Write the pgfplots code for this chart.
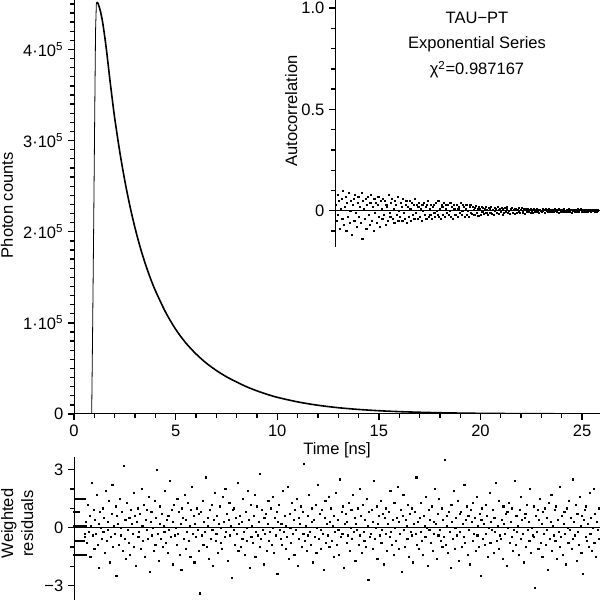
\documentclass[border=0pt]{standalone}
\usepackage{fontspec}
\setmainfont{Liberation Sans}
\usepackage{pgfplots}
\pgfplotsset{compat=1.18}
\newcommand\lblfont{\fontsize{12.4}{15}\selectfont}
\pgfplotsset{myax/.style={
  scale only axis, tick align=outside,
  major tick length=4.5pt, minor tick length=2.8pt,
  tick style={black, line width=1pt},
  axis line style={line width=0.75pt},
  tick label style={font=\lblfont},
  label style={font=\lblfont},
}}
\begin{document}
\begin{tikzpicture}[font=\lblfont]
\path[use as bounding box] (0,0) rectangle (450pt,450pt);
% ---------------- main decay ----------------
\begin{axis}[at={(55.5pt,139.5pt)}, anchor=south west,
  width=394.5pt, height=310.5pt,
  xmin=0, xmax=25.88, ymin=0, ymax=454300,
  axis lines*=left, scaled ticks=false, myax,
  xtick={0,5,10,15,20,25}, xticklabels={0,5,10,15,20,25},
  minor xtick={1,2,3,4,6,7,8,9,11,12,13,14,16,17,18,19,21,22,23,24},
  ytick={0,100000,200000,300000,400000},
  yticklabels={0,1·10\textsuperscript{5},2·10\textsuperscript{5},3·10\textsuperscript{5},4·10\textsuperscript{5}},
  minor ytick={10000,20000,30000,40000,50000,60000,70000,80000,90000,110000,120000,130000,140000,150000,160000,170000,180000,190000,210000,220000,230000,240000,250000,260000,270000,280000,290000,310000,320000,330000,340000,350000,360000,370000,380000,390000,410000,420000,430000,440000,450000},
  xlabel={Time [ns]}, ylabel={Photon counts},
  xlabel style={at={(axis description cs:0.5,-0.099)}, anchor=base},
  ylabel style={at={(axis description cs:-0.116,0.504)}, anchor=base},
]
\addplot[black, line width=0.6pt] coordinates {(0,0)(0.87,0)(0.92,100000)(0.97,210000)(1.02,330000)(1.06,420000)(1.10,450000)(1.13,452000)};
\addplot[black, line width=1.2pt, smooth] coordinates {(1.13,452000)(1.18,450500)(1.25,446000)(1.30,442000)(1.40,431000)(1.50,416000)(1.60,399000)(1.76,368000)(1.88,346000)(2.00,325000)(2.25,288000)(2.50,256000)(2.75,228300)(3.00,204400)(3.25,183500)(3.50,165400)(3.75,149500)(4.00,135600)(4.50,112000)(5.00,93000)(5.50,78000)(6.00,66000)(6.50,56000)(7.00,47800)(7.50,40900)(8.00,35100)(8.50,29800)(9.00,25400)(9.50,21600)(10,18300)(11,13300)(12,9600)(13,6900)(14,5000)(15,3600)(16,2600)(17,1900)(18,1360)(19,980)(20,710)(22,370)(24,190)(25.88,100)};
\end{axis}
% ---------------- residuals ----------------
\begin{axis}[at={(55.5pt,0pt)}, anchor=south west,
  width=394.5pt, height=107.25pt,
  xmin=0, xmax=1294, ymin=-3.75, ymax=3.65,
  axis x line=none, axis y line*=left, myax,
  ytick={-3,0,3}, yticklabels={−3,0,3}, minor ytick={-2,-1,1,2},
  ylabel={Weighted\\residuals},
  ylabel style={align=center, at={(axis description cs:-0.108,0.535)}, anchor=center},
]
\addplot[black, line width=0.6pt] coordinates {(0,0)(1294,0)};
\addplot[only marks, mark=square*, mark size=0.42pt, black] coordinates {
(0,0.1)(2,0.1)(4,0.1)(6,0.1)(8,0.1)(10,0.1)(12,0.1)(14,0.1)(16,0.1)(18,0.1)(20,0.1)(22,0.1)(24,0.1)(26,0.1)(28,0.1)
(2,1.5)(6,1.5)(10,1.5)(14,1.5)(18,1.5)(22,1.5)(26,1.5)
(0,0.8)(4,0.8)(8,0.8)(12,0.8)
(4,-0.7)(6,-0.7)(8,-0.7)(10,-0.7)(12,-0.7)(14,-0.7)(16,-0.7)(18,-0.7)(20,-0.7)(22,-0.7)(24,-0.7)(26,-0.5)(26,-0.3)
(0,-1.4)(4,-1.4)(8,-1.4)(12,-1.4)(16,-1.4)(20,-1.4)(24,-1.4)(28,-1.4)
(30,0.3)(32,-0.8)(34,1.2)(36,-0.2)(38,0.6)(40,-1.5)(42,0.1)(44,2.3)(46,-0.4)(48,0.9)
(50,-1.1)(52,0.4)(54,-0.3)(56,1.7)(58,-0.9)(60,0.2)(62,-2.1)(64,0.8)(66,0.0)(68,-0.6)
(70,1.0)(72,-0.2)(74,0.5)(76,-1.3)(78,1.9)(80,-0.7)(82,0.3)(84,-0.1)(86,1.4)(88,-1.8)
(90,-0.5)(92,0.7)(94,2.2)(96,-1.0)(98,0.1)(100,-0.3)(102,1.1)(104,-2.5)(106,0.6)(108,0.2)
(110,-0.9)(112,1.5)(114,-0.4)(116,0.0)(118,0.8)(120,-1.2)(122,3.2)(124,-0.6)(126,0.4)(128,-1.6)
(130,1.3)(132,-0.1)(134,-0.8)(136,0.5)(138,-1.4)(140,0.9)(142,0.2)(144,-0.3)(146,1.8)(148,-1.0)
(150,0.6)(152,-2.0)(154,0.3)(156,1.0)(158,-0.5)(160,-0.2)(162,0.7)(164,-1.1)(166,2.0)(168,0.1)
(170,-0.7)(172,1.2)(174,-1.5)(176,0.4)(178,-0.1)(180,0.9)(182,-0.6)(184,1.6)(186,-2.3)(188,0.3)
(190,0.8)(192,-0.4)(194,0.0)(196,-1.2)(198,1.4)(200,-0.9)(202,0.5)(204,3.0)(206,-0.3)(208,-1.7)
(210,0.2)(212,1.1)(214,-0.6)(216,0.7)(218,-1.0)(220,0.1)(222,-0.2)(224,1.9)(226,-0.8)(228,0.4)
(230,-1.3)(232,0.6)(234,-0.1)(236,2.4)(238,-0.5)(240,0.9)(242,-1.9)(244,0.3)(246,1.2)(248,-0.4)
(250,0.0)(252,-0.9)(254,1.5)(256,-0.3)(258,0.8)(260,-1.4)(262,0.2)(264,-2.2)(266,1.0)(268,0.5)
(270,-0.6)(272,1.7)(274,-1.1)(276,0.4)(278,-0.2)(280,1.3)(282,-0.7)(284,0.1)(286,-1.5)(288,0.9)
(290,2.1)(292,-0.3)(294,0.6)(296,-1.8)(298,0.2)(300,-0.5)(302,1.0)(304,-0.1)(306,0.7)(308,-1.2)
(310,-3.4)(312,0.8)(314,-0.4)(316,1.4)(318,-0.9)(320,0.3)(322,-0.2)(324,2.6)(326,-1.0)(328,0.5)
(330,0.1)(332,-1.6)(334,0.9)(336,-0.6)(338,1.2)(340,-0.1)(342,-2.0)(344,0.4)(346,1.8)(348,-0.7)
(350,-0.3)(352,0.6)(354,-1.3)(356,0.2)(358,1.1)(360,-0.8)(362,0.0)(364,-1.1)(366,1.6)(368,0.3)
(370,-0.5)(372,2.0)(374,-0.2)(376,0.7)(378,-1.7)(380,0.4)(382,1.3)(384,-0.4)(386,0.1)(388,-2.6)
(390,0.9)(392,-0.1)(394,1.0)(396,-0.9)(398,0.5)(400,-0.3)(402,2.3)(404,-1.2)(406,0.2)(408,0.6)
(410,-1.0)(412,0.3)(414,-0.6)(416,1.5)(418,-0.2)(420,-1.4)(422,0.8)(424,0.0)(426,-0.7)(428,1.9)
(430,0.4)(432,-2.1)(434,1.2)(436,-0.5)(438,0.1)(440,-0.8)(442,0.6)(444,1.7)(446,-1.5)(448,-0.2)
(450,1.1)(452,-0.4)(454,0.3)(456,-1.0)(458,2.8)(460,-0.6)(462,0.9)(464,-0.1)(466,-1.9)(468,0.5)
(470,-0.3)(472,0.7)(474,-1.2)(476,0.2)(478,1.4)(480,-0.7)(482,-0.2)(484,1.0)(486,-0.9)(488,0.0)
(490,1.6)(492,-1.3)(494,0.5)(496,-0.4)(498,0.8)(500,-2.4)(502,0.3)(504,1.2)(506,-0.1)(508,-0.6)
(510,0.2)(512,-0.9)(514,1.9)(516,-0.2)(518,0.6)(520,-1.1)(522,0.1)(524,-0.5)(526,2.1)(528,-1.6)
(530,0.7)(532,0.0)(534,-0.8)(536,1.3)(538,-0.3)(540,0.4)(542,-1.4)(544,0.9)(546,-0.1)(548,1.5)
(550,-2.0)(552,0.5)(554,-0.6)(556,0.2)(558,1.1)(560,-1.0)(562,0.8)(564,-0.3)(566,3.3)(568,-0.7)
(570,0.1)(572,-1.2)(574,0.6)(576,-0.4)(578,1.7)(580,-0.2)(582,-0.9)(584,0.3)(586,1.0)(588,-1.8)
(590,0.4)(592,-0.5)(594,1.2)(596,-1.3)(598,0.0)(600,2.2)(602,-0.6)(604,0.7)(606,-0.1)(608,-1.1)
(610,0.9)(612,-0.3)(614,-2.2)(616,0.5)(618,1.4)(620,-0.8)(622,0.2)(624,-0.4)(626,1.6)(628,-1.0)
(630,0.3)(632,1.0)(634,-0.7)(636,0.1)(638,-1.5)(640,0.6)(642,-0.2)(644,1.8)(646,-0.9)(648,0.4)
(650,-0.1)(652,-1.4)(654,2.5)(656,-0.5)(658,0.8)(660,-0.3)(662,1.1)(664,-2.1)(666,0.2)(668,0.7)
(670,-0.8)(672,0.3)(674,-0.4)(676,1.3)(678,-1.2)(680,0.0)(682,0.9)(684,-0.6)(686,1.7)(688,-0.2)
(690,0.5)(692,-1.7)(694,0.2)(696,-0.1)(698,1.0)(700,-0.9)(702,2.0)(704,-0.4)(706,0.6)(708,-1.3)
(710,1.2)(712,-0.2)(714,-0.7)(716,0.4)(718,-1.0)(720,1.5)(722,0.1)(724,-2.7)(726,0.8)(728,-0.5)
(730,-0.3)(732,0.9)(734,-1.1)(736,0.3)(738,2.4)(740,-0.6)(742,0.0)(744,1.1)(746,-1.6)(748,0.2)
(750,0.6)(752,-0.4)(754,1.4)(756,-0.8)(758,-0.1)(760,0.7)(762,-1.9)(764,0.5)(766,1.0)(768,-0.3)
(770,-1.2)(772,0.2)(774,0.8)(776,-0.5)(778,1.9)(780,-0.2)(782,-0.9)(784,0.4)(786,-1.4)(788,1.3)
(790,0.0)(792,-0.7)(794,0.5)(796,2.1)(798,-1.1)(800,0.3)(802,-0.3)(804,0.9)(806,-2.3)(808,0.6)
(810,1.7)(812,-0.1)(814,-1.0)(816,0.4)(818,0.1)(820,-0.6)(822,1.2)(824,-1.5)(826,0.7)(828,-0.2)
(830,-0.4)(832,1.0)(834,-1.8)(836,0.2)(838,0.8)(840,-0.3)(842,2.6)(844,-0.9)(846,0.3)(848,-1.1)
(850,0.5)(852,-0.2)(854,1.3)(856,-0.7)(858,-1.4)(860,0.6)(862,0.1)(864,-0.5)(866,1.6)(868,0.0)
(870,-2.0)(872,0.9)(874,-0.1)(876,0.4)(878,-0.8)(880,1.1)(882,-1.2)(884,0.3)(886,-0.3)(888,2.0)
(890,0.2)(892,-1.6)(894,0.7)(896,-0.4)(898,1.5)(900,-0.1)(902,-0.7)(904,1.0)(906,-1.0)(908,0.4)
(910,-0.5)(912,3.5)(914,-0.9)(916,0.1)(918,0.6)(920,-1.3)(922,0.8)(924,-0.2)(926,-2.1)(928,1.2)
(930,0.3)(932,-0.6)(934,1.9)(936,-1.1)(938,0.0)(940,0.5)(942,-0.4)(944,1.4)(946,-1.7)(948,0.7)
(950,-0.2)(952,0.8)(954,-1.0)(956,0.2)(958,-0.5)(960,2.2)(962,-0.8)(964,0.4)(966,1.1)(968,-1.4)
(970,0.6)(972,-0.1)(974,-1.9)(976,0.9)(978,0.3)(980,-0.7)(982,1.3)(984,-0.3)(986,0.5)(988,-1.2)
(990,1.6)(992,-0.4)(994,0.1)(996,-1.0)(998,0.7)(1000,-2.5)(1002,0.4)(1004,1.0)(1006,-0.6)(1008,0.2)
(1010,-0.9)(1012,1.2)(1014,-0.3)(1016,0.6)(1018,-1.5)(1020,0.0)(1022,1.8)(1024,-0.8)(1026,0.3)(1028,-0.1)
(1030,0.9)(1032,-1.3)(1034,0.5)(1036,-0.2)(1038,2.3)(1040,-0.7)(1042,0.1)(1044,-1.1)(1046,1.4)(1048,-0.4)
(1050,-0.6)(1052,0.4)(1054,-1.6)(1056,1.1)(1058,0.2)(1060,-0.3)(1062,0.7)(1064,-2.0)(1066,0.8)(1068,0.0)
(1070,1.3)(1072,-0.8)(1074,0.3)(1076,-0.5)(1078,1.0)(1080,-1.2)(1082,-0.1)(1084,2.4)(1086,-0.9)(1088,0.6)
(1090,-0.2)(1092,0.1)(1094,-1.4)(1096,0.9)(1098,-0.6)(1100,1.6)(1102,0.4)(1104,-0.3)(1106,-1.8)(1108,0.5)
(1110,0.7)(1112,-1.0)(1114,1.2)(1116,-0.1)(1118,0.3)(1120,-0.7)(1122,2.0)(1124,-1.3)(1126,0.0)(1128,-0.4)
(1130,1.1)(1132,-0.5)(1134,-3.1)(1136,0.6)(1138,-0.2)(1140,0.9)(1142,-1.1)(1144,0.4)(1146,1.5)(1148,-0.8)
(1150,0.2)(1152,-1.5)(1154,0.8)(1156,-0.3)(1158,1.0)(1160,-0.9)(1162,0.5)(1164,-0.1)(1166,-2.2)(1168,1.3)
(1170,-0.6)(1172,0.3)(1174,1.7)(1176,-1.2)(1178,0.1)(1180,-0.4)(1182,0.9)(1184,-0.7)(1186,1.1)(1188,-1.6)
(1190,0.4)(1192,-0.2)(1194,-1.0)(1196,2.1)(1198,-0.5)(1200,0.6)(1202,-1.4)(1204,0.2)(1206,0.8)(1208,-0.3)
(1210,-1.9)(1212,1.0)(1214,0.0)(1216,-0.8)(1218,1.4)(1220,-0.1)(1222,0.5)(1224,-1.1)(1226,2.5)(1228,-0.6)
(1230,0.3)(1232,-0.4)(1234,1.2)(1236,-1.7)(1238,0.7)(1240,-0.2)(1242,-0.9)(1244,1.6)(1246,0.1)(1248,-1.3)
(1250,0.6)(1252,-2.4)(1254,0.4)(1256,0.9)(1258,-0.5)(1260,1.1)(1262,-0.7)(1264,0.2)(1266,-1.0)(1268,1.8)
(1270,-0.3)(1272,0.5)(1274,-1.2)(1276,0.0)(1278,2.0)(1280,-0.8)(1282,0.7)(1284,-1.5)(1286,0.3)(1288,-0.1)
(1290,1.0)(1292,-0.6)
};
\end{axis}
% ---------------- autocorrelation inset ----------------
\begin{axis}[at={(251.25pt,264.75pt)}, anchor=south west,
  width=198.75pt, height=185.25pt,
  xmin=0, xmax=662, ymin=-0.179, ymax=1.04,
  axis x line=none, axis y line*=left, myax,
  ytick={0,0.5,1}, yticklabels={0,0.5,1.0},
  minor ytick={-0.1,0.1,0.2,0.3,0.4,0.6,0.7,0.8,0.9},
  ylabel={Autocorrelation},
  ylabel style={at={(axis description cs:-0.143,0.55)}, anchor=base},
]
\addplot[black, line width=0.6pt] coordinates {(0,0)(662,0)};
\addplot[only marks, mark=square*, mark size=0.42pt, black] coordinates {
(2,0.03)(4,-0.05)(6,0.08)(8,-0.02)(10,0.05)(12,-0.09)(14,0.01)(16,0.06)(18,-0.04)(20,0.10)
(22,-0.07)(24,0.02)(26,0.07)(28,-0.10)(30,0.04)(32,-0.03)(34,0.09)(36,-0.06)(38,0.00)(40,0.05)
(42,-0.12)(44,0.03)(46,0.06)(48,-0.05)(50,0.08)(52,-0.01)(54,-0.08)(56,0.04)(58,0.07)(60,-0.03)
(62,0.02)(64,-0.06)(66,0.09)(68,-0.14)(70,0.05)(72,0.01)(74,-0.04)(76,0.06)(78,-0.09)(80,0.03)
(82,0.07)(84,-0.02)(86,-0.07)(88,0.04)(90,0.08)(92,-0.05)(94,0.02)(96,-0.10)(98,0.06)(100,-0.01)
(102,0.04)(104,-0.06)(106,0.03)(108,0.07)(110,-0.03)(112,-0.08)(114,0.05)(116,0.01)(118,-0.04)(120,0.06)
(122,-0.02)(124,0.05)(126,-0.07)(128,0.03)(130,0.02)(132,-0.05)(134,0.08)(136,-0.01)(138,-0.03)(140,0.04)
(142,0.06)(144,-0.04)(146,0.01)(148,-0.06)(150,0.05)(152,0.03)(154,-0.02)(156,0.07)(158,-0.05)(160,0.00)
(162,-0.03)(164,0.04)(166,0.02)(168,-0.05)(170,0.06)(172,-0.01)(174,-0.04)(176,0.03)(178,0.05)(180,-0.06)
(182,0.02)(184,-0.03)(186,0.05)(188,0.01)(190,-0.05)(192,0.04)(194,-0.02)(196,0.03)(198,-0.04)(200,0.06)
(202,-0.01)(204,0.03)(206,-0.04)(208,0.02)(210,0.04)(212,-0.03)(214,0.01)(216,-0.05)(218,0.03)(220,0.00)
(222,0.04)(224,-0.02)(226,0.02)(228,-0.04)(230,0.03)(232,0.05)(234,-0.03)(236,0.01)(238,-0.02)(240,0.03)
(242,-0.04)(244,0.02)(246,0.03)(248,-0.01)(250,-0.03)(252,0.04)(254,0.00)(256,-0.02)(258,0.05)(260,-0.03)
(262,0.01)(264,-0.04)(266,0.03)(268,0.02)(270,-0.02)(272,0.04)(274,-0.03)(276,0.01)(278,0.03)(280,-0.01)
(282,0.03)(284,-0.02)(286,0.00)(288,0.04)(290,-0.03)(292,0.02)(294,-0.04)(296,0.03)(298,0.01)(300,-0.02)
(302,-0.02)(304,0.03)(306,-0.03)(308,0.01)(310,0.02)(312,-0.01)(314,0.04)(316,-0.02)(318,0.00)(320,0.03)
(322,0.02)(324,-0.03)(326,0.01)(328,0.03)(330,-0.02)(332,0.00)(334,-0.03)(336,0.02)(338,0.03)(340,-0.01)
(342,-0.015)(344,0.02)(346,0.005)(348,-0.02)(350,0.015)(352,0.025)(354,-0.01)(356,0.01)(358,-0.025)(360,0.02)
(362,0.01)(364,-0.02)(366,0.02)(368,-0.005)(370,0.015)(372,-0.015)(374,0.01)(376,0.02)(378,-0.01)(380,0.005)
(382,-0.02)(384,0.015)(386,0.01)(388,-0.01)(390,0.02)(392,-0.015)(394,0.005)(396,-0.02)(398,0.015)(400,0.0)
(402,0.01)(404,-0.01)(406,0.02)(408,0.005)(410,-0.015)(412,0.01)(414,-0.005)(416,0.015)(418,-0.02)(420,0.01)
(422,-0.01)(424,0.015)(426,-0.005)(428,0.01)(430,0.02)(432,-0.01)(434,0.0)(436,-0.015)(438,0.01)(440,0.005)
(442,0.015)(444,-0.01)(446,0.005)(448,-0.015)(450,0.01)(452,0.01)(454,-0.01)(456,0.005)(458,0.015)(460,-0.005)
(462,-0.01)(464,0.005)(466,0.015)(468,-0.01)(470,0.0)(472,0.01)(474,-0.015)(476,0.01)(478,-0.005)(480,0.01)
(482,0.008)(484,-0.006)(486,0.004)(488,-0.01)(490,0.007)(492,0.002)(494,-0.008)(496,0.01)(498,-0.004)(500,0.005)
(502,-0.007)(504,0.009)(506,-0.003)(508,0.006)(510,-0.009)(512,0.004)(514,0.001)(516,-0.006)(518,0.008)(520,-0.002)
(522,0.005)(524,-0.008)(526,0.007)(528,-0.001)(530,0.004)(532,-0.006)(534,0.009)(536,-0.004)(538,0.002)(540,0.006)
(542,-0.005)(544,0.003)(546,-0.007)(548,0.008)(550,-0.002)(552,0.005)(554,-0.006)(556,0.004)(558,0.007)(560,-0.009)
(562,0.006)(564,-0.003)(566,0.002)(568,-0.007)(570,0.005)(572,0.008)(574,-0.004)(576,0.001)(578,-0.006)(580,0.004)
(582,-0.004)(584,0.007)(586,-0.005)(588,0.003)(590,0.006)(592,-0.008)(594,0.002)(596,0.005)(598,-0.003)(600,0.006)
(602,0.004)(604,-0.006)(606,0.008)(608,-0.002)(610,-0.005)(612,0.003)(614,0.007)(616,-0.004)(618,0.002)(620,-0.007)
(622,-0.003)(624,0.005)(626,-0.004)(628,0.006)(630,0.001)(632,-0.005)(634,0.004)(636,-0.002)(638,0.006)(640,-0.003)
(642,0.004)(644,-0.002)(646,0.003)(648,-0.005)(650,0.002)(652,0.004)(654,-0.003)(656,0.002)
};
\end{axis}
\node[anchor=base] at (357.75pt,432.5pt) {TAU−PT};
\node[anchor=base] at (357.75pt,413.75pt) {Exponential Series};
\node[anchor=base] at (357.75pt,393.75pt) {χ\textsuperscript{2}=0.987167};
\end{tikzpicture}
\end{document}
